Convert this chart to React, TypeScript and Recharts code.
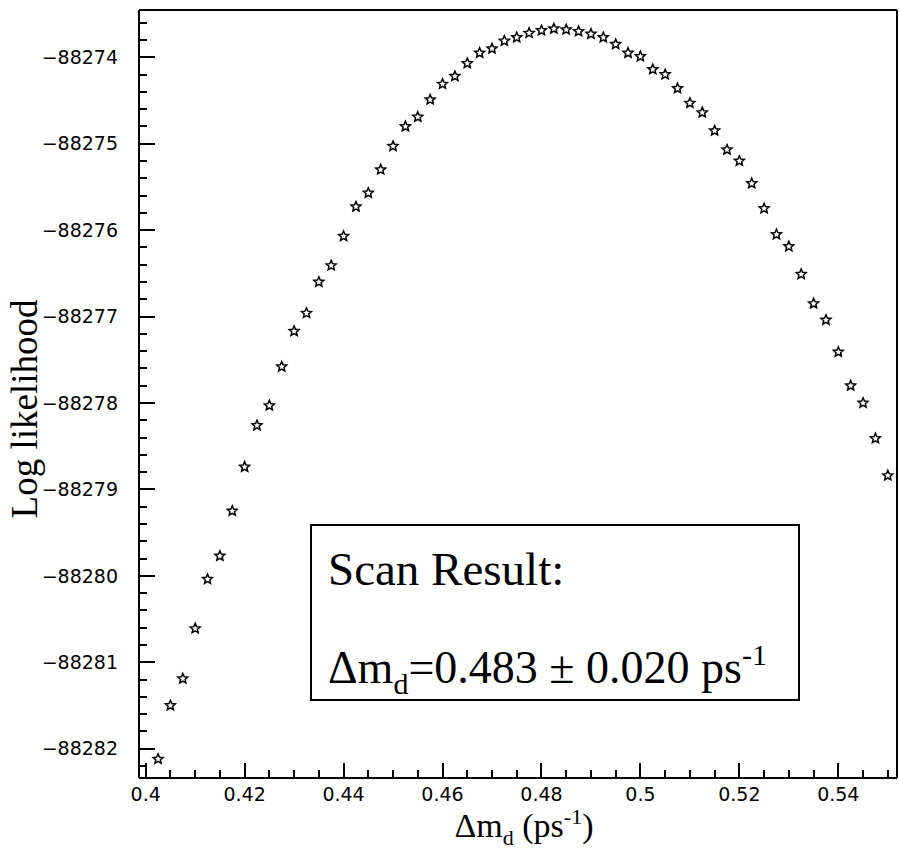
import { ReferenceLine, Scatter, ScatterChart, XAxis, YAxis } from "recharts"

// scan points: Δm_d (ps^-1) and log likelihood
const dmValues = [
  0.4025, 0.405, 0.4075, 0.41, 0.4125, 0.415, 0.4175, 0.42, 0.4225, 0.425,
  0.4275, 0.43, 0.4325, 0.435, 0.4375, 0.44, 0.4425, 0.445, 0.4475, 0.45,
  0.4525, 0.455, 0.4575, 0.46, 0.4625, 0.465, 0.4675, 0.47, 0.4725, 0.475,
  0.4775, 0.48, 0.4825, 0.485, 0.4875, 0.49, 0.4925, 0.495, 0.4975, 0.5,
  0.5025, 0.505, 0.5075, 0.51, 0.5125, 0.515, 0.5175, 0.52, 0.5225, 0.525,
  0.5275, 0.53, 0.5325, 0.535, 0.5375, 0.54, 0.5425, 0.545, 0.5475, 0.55,
]

const logLikelihood = [
  -88282.12, -88281.5, -88281.19, -88280.61, -88280.04, -88279.77, -88279.25, -88278.74, -88278.26, -88278.03,
  -88277.58, -88277.17, -88276.96, -88276.6, -88276.41, -88276.07, -88275.73, -88275.57, -88275.3, -88275.03,
  -88274.8, -88274.69, -88274.49, -88274.31, -88274.22, -88274.07, -88273.95, -88273.9, -88273.81, -88273.77,
  -88273.72, -88273.69, -88273.67, -88273.68, -88273.7, -88273.73, -88273.77, -88273.85, -88273.95, -88273.99,
  -88274.14, -88274.2, -88274.36, -88274.53, -88274.64, -88274.85, -88275.07, -88275.2, -88275.46, -88275.75,
  -88276.05, -88276.19, -88276.51, -88276.85, -88277.04, -88277.41, -88277.8, -88278.0, -88278.41, -88278.84,
]

const xMajorTicks = [0.4, 0.42, 0.44, 0.46, 0.48, 0.5, 0.52, 0.54]
const xMinorTicks = [
  0.405, 0.41, 0.415, 0.425, 0.43, 0.435, 0.445, 0.45, 0.455, 0.465, 0.47, 0.475,
  0.485, 0.49, 0.495, 0.505, 0.51, 0.515, 0.525, 0.53, 0.535, 0.545, 0.55,
]
const yMajorTicks = [-88282, -88281, -88280, -88279, -88278, -88277, -88276, -88275, -88274]
const yMinorTicks = [
  -88282.2, -88281.8, -88281.6, -88281.4, -88281.2, -88280.8, -88280.6, -88280.4, -88280.2,
  -88279.8, -88279.6, -88279.4, -88279.2, -88278.8, -88278.6, -88278.4, -88278.2,
  -88277.8, -88277.6, -88277.4, -88277.2, -88276.8, -88276.6, -88276.4, -88276.2,
  -88275.8, -88275.6, -88275.4, -88275.2, -88274.8, -88274.6, -88274.4, -88274.2,
  -88273.8, -88273.6,
]

const xDomain: [number, number] = [0.39865, 0.55186]
const yDomain: [number, number] = [-88282.339, -88273.453]

const data = dmValues.map((dm, i) => ({ dm, logL: logLikelihood[i] }))
const xTicks = [...xMajorTicks, ...xMinorTicks]
const yTicks = [...yMajorTicks, ...yMinorTicks]

const lineStyle = { stroke: "#000", strokeWidth: 2, shapeRendering: "crispEdges" }
const serif = "'Liberation Serif', 'Times New Roman', serif"
const labelFont = "DejaVu Sans"
const X_GAP = 10
const Y_GAP = 21

// ticks drawn inside the frame, labels only on the major ones
function XTick(props: any) {
  const { x, y, payload } = props
  const v = payload.value
  const major = xMajorTicks.includes(v)
  const axisY = y - X_GAP
  return (
    <g>
      <line x1={x} x2={x} y1={axisY} y2={axisY - (major ? 15 : 8)} {...lineStyle} />
      {major && (
        <text x={x} y={y} dy="0.71em" textAnchor="middle" fontFamily={labelFont} fontSize={19} fill="#000">
          {String(v)}
        </text>
      )}
    </g>
  )
}

function YTick(props: any) {
  const { x, y, payload } = props
  const v = payload.value
  const major = yMajorTicks.includes(v)
  const axisX = x + Y_GAP
  return (
    <g>
      <line x1={axisX} x2={axisX + (major ? 16 : 8)} y1={y} y2={y} {...lineStyle} />
      {major && (
        <text x={x} y={y} dy="0.355em" textAnchor="end" fontFamily={labelFont} fontSize={19} fill="#000">
          {"\u2212" + Math.abs(v)}
        </text>
      )}
    </g>
  )
}

// open star marker, centred on the point the scales give
function StarMark(props: any) {
  const { cx, cy } = props
  const pts: string[] = []
  for (let i = 0; i < 10; i++) {
    const r = i % 2 === 0 ? 5.2 : 2.4
    const a = -Math.PI / 2 + (i * Math.PI) / 5
    pts.push(`${cx + r * Math.cos(a)},${cy + r * Math.sin(a)}`)
  }
  return <polygon points={pts.join(" ")} fill="#fff" stroke="#000" strokeWidth={1.5} />
}

function XTitle(props: any) {
  const { viewBox } = props
  const cx = viewBox.x + viewBox.width / 2 + 6
  return (
    <text x={cx} y={viewBox.y + 59} textAnchor="middle" fontFamily={serif} fontSize={34} fill="#000">
      Δm
      <tspan fontSize={22} dy={8}>d</tspan>
      <tspan dy={-8}>{" (ps"}</tspan>
      <tspan fontSize={22} dy={-13}>-1</tspan>
      <tspan dy={13}>)</tspan>
    </text>
  )
}

function YTitle(props: any) {
  const { viewBox } = props
  const x = viewBox.x + 37
  const y = viewBox.y + viewBox.height / 2 + 15
  return (
    <text x={x} y={y} transform={`rotate(-90 ${x} ${y})`} textAnchor="middle" fontFamily={serif} fontSize={37} fill="#000">
      Log likelihood
    </text>
  )
}

export default function App() {
  return (
    <div style={{ position: "absolute", left: 0, top: 0, width: 899, height: 851, background: "#fff" }}>
      <ScatterChart width={899} height={851} margin={{ top: 10, right: 2, bottom: 0, left: 0 }}>
        <XAxis
          xAxisId="x"
          type="number"
          dataKey="dm"
          domain={xDomain}
          allowDataOverflow
          ticks={xTicks}
          interval={0}
          height={73}
          tickLine={false}
          tickSize={0}
          tickMargin={X_GAP}
          axisLine={lineStyle}
          tick={<XTick />}
          label={<XTitle />}
        />
        <YAxis
          yAxisId="y"
          type="number"
          dataKey="logL"
          domain={yDomain}
          allowDataOverflow
          ticks={yTicks}
          interval={0}
          width={139}
          tickLine={false}
          tickSize={0}
          tickMargin={Y_GAP}
          axisLine={lineStyle}
          tick={<YTick />}
          label={<YTitle />}
        />
        <ReferenceLine xAxisId="x" yAxisId="y" y={yDomain[1]} ifOverflow="visible" {...lineStyle} />
        <ReferenceLine xAxisId="x" yAxisId="y" x={xDomain[1]} ifOverflow="visible" {...lineStyle} />
        <Scatter
          xAxisId="x"
          yAxisId="y"
          data={data}
          shape={<StarMark />}
          isAnimationActive={false}
        />
      </ScatterChart>
      <div
        style={{
          position: "absolute",
          left: 310,
          top: 524,
          width: 490,
          height: 177,
          border: "2px solid #000",
          boxSizing: "border-box",
          background: "#fff",
        }}
      >
        <svg width={486} height={173} style={{ display: "block", overflow: "visible" }}>
          <text x={16} y={59} fontFamily={serif} fontSize={47} fill="#000">
            Scan Result:
          </text>
          <text x={16} y={157} fontFamily={serif} fontSize={46} fill="#000">
            Δm
            <tspan fontSize={30} dy={11}>d</tspan>
            <tspan dy={-11}>=0.483 ± 0.020 ps</tspan>
            <tspan fontSize={30} dy={-18}>-1</tspan>
          </text>
        </svg>
      </div>
    </div>
  )
}
